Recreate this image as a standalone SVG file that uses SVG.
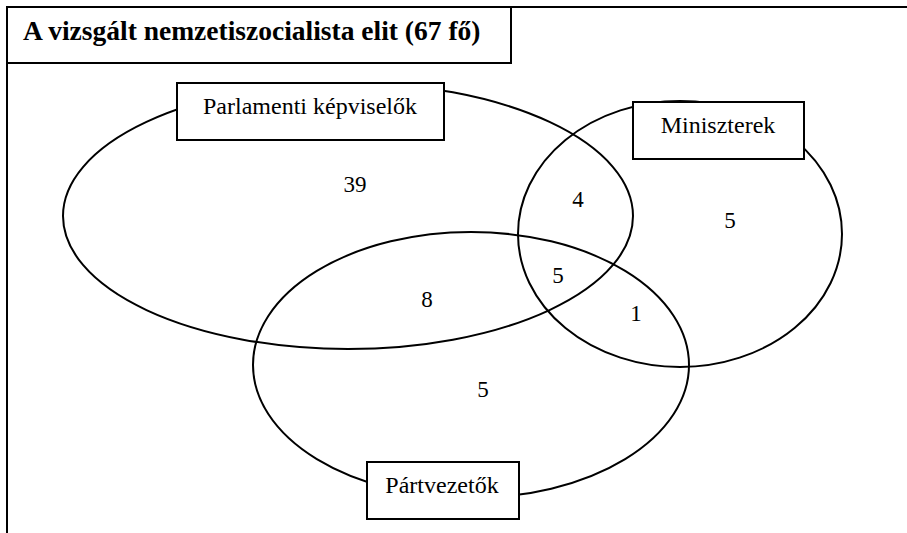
<svg xmlns="http://www.w3.org/2000/svg" width="907" height="533" viewBox="0 0 907 533">
<style>
.shape{fill:none;stroke:#000;stroke-width:2}
.box{fill:#fff;stroke:#000;stroke-width:2}
.lbl{font-family:"Liberation Serif","Times New Roman",serif;font-size:24px;fill:#000;text-anchor:middle}
.num{font-family:"Liberation Serif","Times New Roman",serif;font-size:23px;fill:#000;text-anchor:middle}
.title{font-family:"Liberation Serif","Times New Roman",serif;font-size:27.5px;font-weight:bold;fill:#000}
</style>
<rect width="907" height="533" fill="#fff"/>
<g id="frame">
<line class="shape" x1="7" y1="7" x2="907" y2="7"/>
<line class="shape" x1="7" y1="7" x2="7" y2="533"/>
</g>
<g id="title">
<rect class="box" x="7" y="7" width="504" height="56"/>
<text class="title" x="23" y="40">A vizsgált nemzetiszocialista elit (67 fő)</text>
</g>
<g id="sets">
<ellipse id="set-parlament" class="shape" cx="348" cy="216" rx="285" ry="133"/>
<ellipse id="set-miniszter" class="shape" cx="680" cy="234" rx="162" ry="133"/>
<ellipse id="set-part" class="shape" cx="471" cy="365" rx="218" ry="133"/>
</g>
<g id="node-parlament">
<rect class="box" x="177" y="83" width="267" height="57"/>
<text class="lbl" x="310" y="114">Parlamenti képviselők</text>
</g>
<g id="node-miniszter">
<rect class="box" x="633" y="102" width="171" height="57"/>
<text class="lbl" x="718" y="133">Miniszterek</text>
</g>
<g id="node-part">
<rect class="box" x="367" y="462" width="152" height="57"/>
<text class="lbl" x="442" y="493">Pártvezetők</text>
</g>
<g id="counts">
<text class="num" x="355" y="192">39</text>
<text class="num" x="578" y="207">4</text>
<text class="num" x="730" y="228">5</text>
<text class="num" x="427" y="307">8</text>
<text class="num" x="558" y="283">5</text>
<text class="num" x="636" y="321">1</text>
<text class="num" x="483" y="397">5</text>
</g>
</svg>
